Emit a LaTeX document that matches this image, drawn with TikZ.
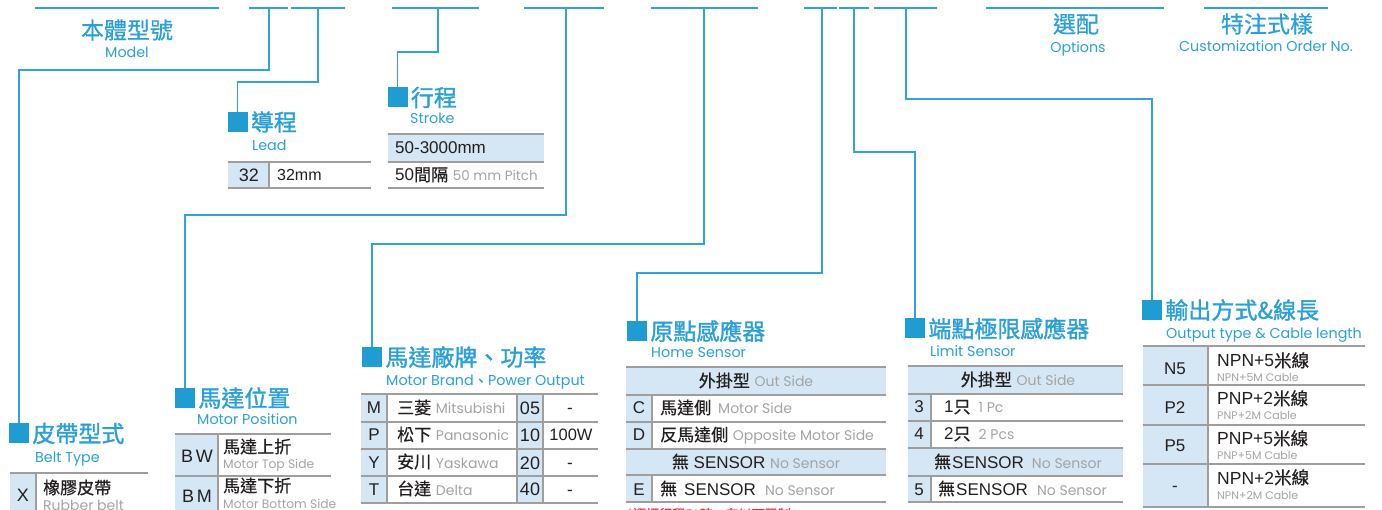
\documentclass[tikz,border=0pt]{standalone}
\usepackage{fontspec}
\setmainfont{Liberation Sans}
\newfontfamily\cjk[FakeBold=0.6]{Noto Sans CJK TC}
\newfontfamily\cjkt[FakeBold=1.4]{Noto Sans CJK TC}
\newfontfamily\geo{Poppins}
\definecolor{lnblue}{HTML}{2FA4DA}
\definecolor{sqblue}{HTML}{1F9DD3}
\definecolor{ttlblue}{HTML}{2A9FD8}
\definecolor{shade}{HTML}{D5E7F5}
\definecolor{rulegray}{HTML}{9E9E9E}
\definecolor{gtext}{HTML}{A3A3A3}
\definecolor{dark}{HTML}{231F20}
\definecolor{redt}{HTML}{E5282E}
\newcommand\fs[1]{\fontsize{#1}{#1}\selectfont}
\newcommand\zh[1]{{\cjk #1}}
\newcommand\gy[1]{{\geo\fs{14}\color{gtext}#1}}
\newcommand\gys[1]{{\geo\fs{11}\color{gtext}#1}}
\tikzset{
  conn/.style={draw=lnblue, line width=1.5pt},
  hdr/.style={draw=lnblue, line width=1.6pt},
  sq/.style={fill=sqblue, minimum size=20pt, inner sep=0pt},
  ttl/.style={text=ttlblue, inner sep=0pt, font=\cjkt\fs{23}},
  httl/.style={text=ttlblue, inner sep=0pt, font=\cjk\fs{23}},
  sub/.style={text=ttlblue, inner sep=0pt, font=\geo\fs{14.3}},
  rule/.style={draw=rulegray, line width=1.3pt},
  toprule/.style={draw=rulegray, line width=1.8pt},
  shd/.style={fill=shade},
  cell/.style={inner sep=0pt, text=dark, font=\fs{17}, anchor=base},
  cellw/.style={cell, anchor=base west},
}
\begin{document}
\begin{tikzpicture}[x=1pt,y=-1pt]
\useasboundingbox (0,0) rectangle (1382,510);
\clip (0,0) rectangle (1382,510);

% ---------- header segments ----------
\draw[hdr] (35,8) -- (219,8);
\draw[hdr] (249,8) -- (288,8);
\draw[hdr] (291,8) -- (345,8);
\draw[hdr] (392,8) -- (479,8);
\draw[hdr] (524,8) -- (604,8);
\draw[hdr] (651,8) -- (758,8);
\draw[hdr] (804,8) -- (837,8);
\draw[hdr] (839,8) -- (869,8);
\draw[hdr] (874,8) -- (937,8);
\draw[hdr] (986,8) -- (1164,8);
\draw[hdr] (1204,8) -- (1328,8);
\coordinate (t2) at (269,8);
\coordinate (t3) at (318,8);
\coordinate (t4) at (438,8);
\coordinate (t5) at (566,8);
\coordinate (t6) at (704,8);
\coordinate (t7) at (822,8);
\coordinate (t8) at (854,8);
\coordinate (t9) at (906,8);

\node[httl] (hModel) at (127,30) {本體型號};
\node[sub, anchor=base] (hModelE) at (127,58) {Model};
\node[httl] (hOpt) at (1076,24) {選配};
\node[sub, anchor=base] (hOptE) at (1078,53) {Options};
\node[httl] (hCus) at (1267,24) {特注式樣};
\node[sub, anchor=base] (hCusE) at (1266,52) {Customization Order No.};

% ---------- squares ----------
\coordinate (pA) at (19,433.5);
\coordinate (pB) at (237.5,122);
\coordinate (pC) at (397.5,97.5);
\coordinate (pD) at (185,398);
\coordinate (pE) at (372,357);
\coordinate (pF) at (637,331);
\coordinate (pG) at (915,328.5);
\coordinate (pH) at (1152,310);
\node[sq] (sqA) at (pA) {};
\node[sq] (sqB) at (pB) {};
\node[sq] (sqC) at (pC) {};
\node[sq] (sqD) at (pD) {};
\node[sq] (sqE) at (pE) {};
\node[sq] (sqF) at (pF) {};
\node[sq] (sqG) at (pG) {};
\node[sq] (sqH) at (pH) {};

% ---------- connectors ----------
\draw[conn] (t2) -- ++(0,62) -| (sqA.north);
\draw[conn] (t3) -- ++(0,74) -| (sqB.north);
\draw[conn] (t4) -- ++(0,44) -| (sqC.north);
\draw[conn] (t5) -- ++(0,207) -| (sqD.north);
\draw[conn] (t6) -- ++(0,236) -| (sqE.north);
\draw[conn] (t7) -- ++(0,265) -| (sqF.north);
\draw[conn] (t8) -- ++(0,144) -| (sqG.north);
\draw[conn] (t9) -- ++(0,91) -| (sqH.north);

% ---------- section titles ----------
\node[ttl, anchor=west] (tA) at ([xshift=3pt]sqA.east) {皮帶型式};
\node[sub, anchor=base west] (sA) at (35,463) {Belt Type};
\node[ttl, anchor=west] (tB) at ([xshift=3pt]sqB.east) {導程};
\node[sub, anchor=base west] (sB) at (252,151) {Lead};
\node[ttl, anchor=west] (tC) at ([xshift=3pt]sqC.east) {行程};
\node[sub, anchor=base west] (sC) at (410,124) {Stroke};
\node[ttl, anchor=west] (tD) at ([xshift=3pt]sqD.east) {馬達位置};
\node[sub, anchor=base west] (sD) at (197,425) {Motor Position};
\node[ttl, anchor=west] (tE) at ([xshift=3pt]sqE.east) {馬達廠牌、功率};
\node[sub, anchor=base west] (sE) at (386,386) {Motor Brand{\cjk 、}Power Output};
\node[ttl, anchor=west] (tF) at ([xshift=3pt]sqF.east) {原點感應器};
\node[sub, anchor=base west] (sF) at (651,358) {Home Sensor};
\node[ttl, anchor=west] (tG) at ([xshift=3pt]sqG.east) {端點極限感應器};
\node[sub, anchor=base west] (sG) at (930,357) {Limit Sensor};
\node[ttl, anchor=west] (tH) at ([xshift=3pt]sqH.east) {輸出方式\&線長};
\node[sub, anchor=base west] (sH) at (1166,339) {Output type \& Cable length};

% ---------- Lead table ----------
\fill[shd] (228,162) rectangle (269,188);
\draw[rule] (269,162) -- (269,188);
\draw[toprule] (228,162) -- (371,162);
\draw[rule] (228,188) -- (371,188);
\node[cell, font=\fs{18}] (l32) at (249,182) {32};
\node[cellw, font=\fs{16}] (l32t) at (277,181) {32mm};

% ---------- Stroke table ----------
\fill[shd] (388,134) rectangle (544,162);
\draw[toprule] (388,134) -- (544,134);
\draw[rule] (388,162) -- (544,162);
\draw[rule] (388,188) -- (544,188);
\node[cellw] (s1) at (395,154) {50-3000mm};
\node[cellw] (s2) at (395,181) {50\zh{間隔} {\geo\fs{13.5}\color{gtext}50 mm Pitch}};

% ---------- Belt table ----------
\fill[shd] (10,473) rectangle (36,515);
\draw[rule] (36,473) -- (36,515);
\draw[toprule] (10,473) -- (148,473);
\node[cell, font=\fs{18}] (bX) at (23,501) {X};
\node[cellw] (bX1) at (43,494) {\zh{橡膠皮帶}};
\node[cellw] (bX2) at (43,510) {\gy{Rubber belt}};

% ---------- Motor position table ----------
\fill[shd] (175,434) rectangle (218,515);
\draw[rule] (218,434) -- (218,515);
\draw[toprule] (175,434) -- (331,434);
\draw[rule] (175,476) -- (331,476);
\node[cell, font=\fs{18}] (mBW) at (197,463) {B\,W};
\node[cellw] (mBW1) at (223,453) {\zh{馬達上折}};
\node[cellw] (mBW2) at (223,468) {{\geo\fs{12.3}\color{gtext}Motor Top Side}};
\node[cell, font=\fs{18}] (mBM) at (197,502) {B\,M};
\node[cellw] (mBM1) at (223,492) {\zh{馬達下折}};
\node[cellw] (mBM2) at (223,508) {{\geo\fs{12.3}\color{gtext}Motor Bottom Side}};

% ---------- Motor brand table ----------
\fill[shd] (361,394) rectangle (387,503);
\fill[shd] (517,394) rectangle (543,503);
\draw[rule] (387,394) -- (387,503);
\draw[rule] (517,394) -- (517,503);
\draw[rule] (543,394) -- (543,503);
\draw[toprule] (361,394) -- (598,394);
\draw[rule] (361,422) -- (598,422);
\draw[rule] (361,449) -- (598,449);
\draw[rule] (361,476) -- (598,476);
\draw[toprule] (361,503) -- (598,503);
\node[cell] (bM) at (374,414) {M};
\node[cell] (bP) at (374,441) {P};
\node[cell] (bY) at (374,468) {Y};
\node[cell] (bT) at (374,495) {T};
\node[cellw] (bM1) at (397,414) {\zh{三菱} \gy{Mitsubishi}};
\node[cellw] (bP1) at (397,441) {\zh{松下} \gy{Panasonic}};
\node[cellw] (bY1) at (397,468) {\zh{安川} \gy{Yaskawa}};
\node[cellw] (bT1) at (397,495) {\zh{台達} \gy{Delta}};
\node[cell, font=\fs{18}] (w05) at (530,415) {05};
\node[cell, font=\fs{18}] (w10) at (530,442) {10};
\node[cell, font=\fs{18}] (w20) at (530,469) {20};
\node[cell, font=\fs{18}] (w40) at (530,496) {40};
\node[cell] (p05) at (570,414) {-};
\node[cell, font=\fs{16.5}] (p10) at (571,441) {100W};
\node[cell] (p20) at (570,468) {-};
\node[cell] (p40) at (570,495) {-};

% ---------- Home sensor table ----------
\fill[shd] (626,367) rectangle (886,395);
\fill[shd] (626,449) rectangle (886,475);
\fill[shd] (626,395) rectangle (652,449);
\fill[shd] (626,475) rectangle (652,502);
\draw[rule] (652,395) -- (652,449);
\draw[rule] (652,475) -- (652,502);
\draw[toprule] (626,367) -- (886,367);
\draw[rule] (626,395) -- (886,395);
\draw[rule] (626,422) -- (886,422);
\draw[rule] (626,449) -- (886,449);
\draw[rule] (626,475) -- (886,475);
\draw[toprule] (626,502) -- (886,502);
\node[cell] (hOut) at (756,387) {\zh{外掛型} \gy{Out Side}};
\node[cell] (hC) at (639,414) {C};
\node[cellw] (hC1) at (660,414) {\zh{馬達側}\hspace{7pt}\gy{Motor Side}};
\node[cell] (hD) at (639,441) {D};
\node[cellw] (hD1) at (660,441) {\zh{反馬達側} \gy{Opposite Motor Side}};
\node[cell] (hNo) at (756,468) {\zh{無} SENSOR \gy{No Sensor}};
\node[cell] (hE) at (639,495) {E};
\node[cellw] (hE1) at (660,495) {\zh{無}\hspace{7pt}SENSOR\hspace{9pt}\gy{No Sensor}};

% ---------- Limit sensor table ----------
\fill[shd] (908,366) rectangle (1123,394);
\fill[shd] (908,448) rectangle (1123,476);
\fill[shd] (908,394) rectangle (931,448);
\fill[shd] (908,476) rectangle (931,502);
\draw[rule] (931,394) -- (931,448);
\draw[rule] (931,476) -- (931,502);
\draw[toprule] (908,366) -- (1123,366);
\draw[rule] (908,394) -- (1123,394);
\draw[rule] (908,421) -- (1123,421);
\draw[rule] (908,448) -- (1123,448);
\draw[rule] (908,476) -- (1123,476);
\draw[toprule] (908,502) -- (1123,502);
\node[cell] (gOut) at (1018,386) {\zh{外掛型} \gy{Out Side}};
\node[cell] (g3) at (919,413) {3};
\node[cellw] (g31) at (944,413) {1\zh{只}\hspace{8pt}\gy{1 Pc}};
\node[cell] (g4) at (919,440) {4};
\node[cellw] (g41) at (944,440) {2\zh{只}\hspace{8pt}\gy{2 Pcs}};
\node[cell] (gNo) at (1018,468) {\zh{無}\hspace{1pt}SENSOR\hspace{8pt}\gy{No Sensor}};
\node[cell] (g5) at (919,495) {5};
\node[cellw] (g51) at (938,495) {\zh{無}\hspace{1pt}SENSOR\hspace{9pt}\gy{No Sensor}};

% ---------- Output table ----------
\fill[shd] (1143,346) rectangle (1208,507);
\draw[rule] (1208,346) -- (1208,507);
\draw[toprule] (1143,346) -- (1365,346);
\draw[rule] (1143,385) -- (1365,385);
\draw[rule] (1143,425) -- (1365,425);
\draw[rule] (1143,464) -- (1365,464);
\draw[toprule] (1143,507) -- (1365,507);
\node[cell] (oN5) at (1175,375) {N5};
\node[cell] (oP2) at (1175,414) {P2};
\node[cell] (oP5) at (1175,452) {P5};
\node[cell] (oDash) at (1175,491) {-};
\node[cellw, font=\fs{17.5}] (oN5a) at (1217,367) {NPN+5\zh{米線}};
\node[cellw] (oN5b) at (1217,382) {\gys{NPN+5M Cable}};
\node[cellw, font=\fs{17.5}] (oP2a) at (1217,405) {PNP+2\zh{米線}};
\node[cellw] (oP2b) at (1217,420) {\gys{PNP+2M Cable}};
\node[cellw, font=\fs{17.5}] (oP5a) at (1217,445) {PNP+5\zh{米線}};
\node[cellw] (oP5b) at (1217,460) {\gys{PNP+5M Cable}};
\node[cellw, font=\fs{17.5}] (oDa) at (1217,484) {NPN+2\zh{米線}};
\node[cellw] (oDb) at (1217,500) {\gys{NPN+2M Cable}};

% ---------- red note (clipped) ----------
\node[inner sep=0pt, anchor=base west, text=redt, font=\cjk\fs{13}] (note) at (627,519) {*選擇行程50時，有以下限制};
\end{tikzpicture}
\end{document}
